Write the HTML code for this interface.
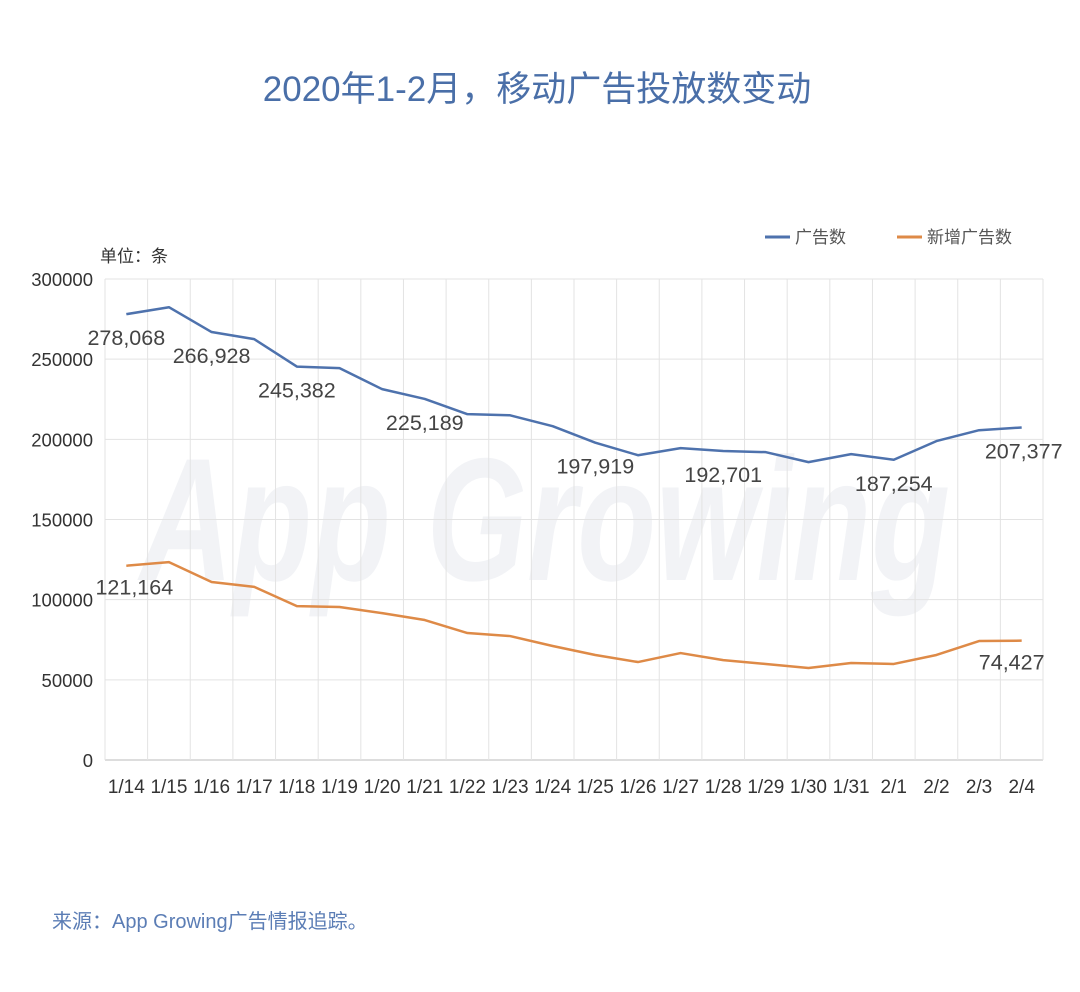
<!DOCTYPE html>
<html><head><meta charset="utf-8"><style>
body{margin:0;background:#fff;}
svg text{font-family:"Liberation Sans","Noto Sans CJK SC",sans-serif;}
</style></head><body>
<svg width="1080" height="987" viewBox="0 0 1080 987">
<text x="537" y="101" text-anchor="middle" font-size="35" fill="#4a6fa8">2020年1-2月，移动广告投放数变动</text>
<text x="140" y="580" font-size="175" fill="#eef0f4" font-style="italic" font-weight="bold" textLength="810" lengthAdjust="spacingAndGlyphs" opacity="0.75">App Growing</text>
<text x="100" y="262" font-size="17" fill="#333">单位：条</text>
<g>
<line x1="765" y1="237" x2="790" y2="237" stroke="#4e72ad" stroke-width="3"/>
<text x="795" y="243" font-size="17" fill="#555">广告数</text>
<line x1="897" y1="237" x2="922" y2="237" stroke="#de8a47" stroke-width="3"/>
<text x="927" y="243" font-size="17" fill="#555">新增广告数</text>
</g>
<g id="grid"></g><g id="axes"></g><g id="series"></g><g id="labels"></g>
<text x="52" y="928" font-size="20" fill="#5b7db5">来源：App Growing广告情报追踪。</text>
</svg>
<script>
const categories=["1/14","1/15","1/16","1/17","1/18","1/19","1/20","1/21","1/22","1/23","1/24","1/25","1/26","1/27","1/28","1/29","1/30","1/31","2/1","2/2","2/3","2/4"];
const adsValues=[278068,282400,266928,262500,245382,244400,231300,225189,215700,215000,208200,197919,190100,194500,192701,192000,185800,190800,187254,198900,205700,207377];
const newAdsValues=[121164,123400,111000,108000,96000,95400,91600,87300,79200,77300,71100,65500,61100,66700,62300,59900,57400,60500,59900,65500,74200,74427];
const yTicks=[0,50000,100000,150000,200000,250000,300000];
const adsLabelIdx=[0,2,4,7,11,14,18,21];
const newLabelIdx=[0,21];
const X0=105,X1=1043,Y0=760,Y1=279;
const step=(X1-X0)/categories.length;
const xs=i=>X0+step*(i+0.5);
const ys=v=>Y0-(v/300000)*(Y0-Y1);
const NS="http://www.w3.org/2000/svg";
function mk(tag,attrs,parent){const e=document.createElementNS(NS,tag);for(const k in attrs)e.setAttribute(k,attrs[k]);parent.appendChild(e);return e;}
const grid=document.getElementById('grid'),axes=document.getElementById('axes'),series=document.getElementById('series'),labels=document.getElementById('labels');
yTicks.forEach(t=>{
 const l=mk('line',{x1:X0,x2:X1,y1:ys(t),y2:ys(t),stroke:t===0?'#bbb':'#e3e3e3','stroke-width':1},grid);
 
 
 const tx=mk('text',{x:93,y:ys(t)+7,'text-anchor':'end','font-size':18.5,fill:'#333'},axes);
 tx.textContent=t;
 
 
});
for(let i=0;i<=categories.length;i++){
 const l=mk('line',{x1:X0+step*i,x2:X0+step*i,y1:Y1,y2:Y0,stroke:'#e3e3e3','stroke-width':1},grid);
 
 
}
categories.forEach((c,i)=>{
 const tx=mk('text',{x:xs(i),y:793,'text-anchor':'middle','font-size':19,fill:'#333'},axes);
 tx.textContent=c;
 
 
});
function line(vals,color,name){
 const p=mk('polyline',{points:vals.map((v,i)=>xs(i)+','+ys(v)).join(' '),fill:'none',stroke:color,'stroke-width':2.5,'stroke-linejoin':'round'},series);
 
 
}
line(adsValues,'#4e72ad','ads-line');
line(newAdsValues,'#de8a47','new-ads-line');
const fmt=v=>v.toLocaleString('en-US');
adsLabelIdx.forEach(i=>{
 const last=i===categories.length-1;
 const tx=mk('text',{x:last?xs(i)+2:xs(i),y:ys(adsValues[i])+31,'text-anchor':'middle','font-size':21.5,fill:'#444'},labels);
 tx.textContent=fmt(adsValues[i]);
 
 
});
newLabelIdx.forEach(i=>{
 const last=i===categories.length-1;
 const tx=mk('text',{x:last?xs(i)-10:xs(i)+8,y:ys(newAdsValues[i])+29,'text-anchor':'middle','font-size':21.5,fill:'#444'},labels);
 tx.textContent=fmt(newAdsValues[i]);
 
 
});
</script>
</body></html>
